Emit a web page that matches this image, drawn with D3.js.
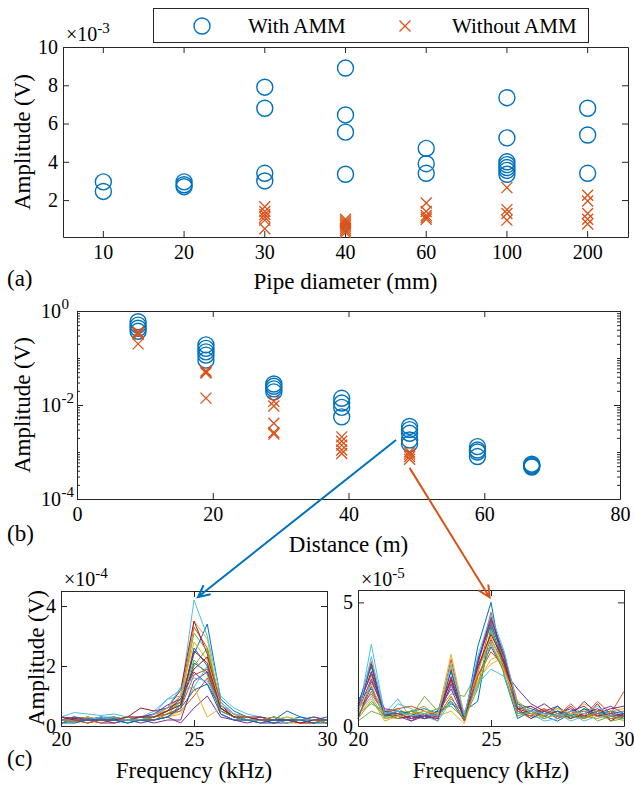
<!DOCTYPE html>
<html>
<head>
<meta charset="utf-8">
<script src="https://cdn.jsdelivr.net/npm/d3@7"></script>
<style>
  body { margin: 0; background: #fff; }
</style>
</head>
<body>
<div id="chart"></div>
<script>
// ---------- data ----------
// (a) amplitude vs pipe diameter, values in units of 1e-3 V
var pipeDiameters = ['10', '20', '30', '40', '60', '100', '200'];
var pipeWithAMM = [
  [2.95, 2.45],
  [2.95, 2.8, 2.7],
  [7.9, 6.8, 3.4, 3.0],
  [8.9, 6.45, 5.55, 3.35],
  [4.7, 3.9, 3.4],
  [7.35, 5.25, 4.0, 3.85, 3.7, 3.55, 3.35],
  [6.8, 5.4, 3.4]
];
var pipeWithoutAMM = [
  [],
  [],
  [1.65, 1.4, 1.25, 1.1, 0.95, 0.5],
  [1.0, 0.9, 0.8, 0.7, 0.6, 0.5, 0.4, 0.3],
  [1.85, 1.4, 1.2, 1.1, 1.0],
  [2.65, 1.5, 1.3, 0.95],
  [2.25, 1.95, 1.3, 1.0, 0.75]
];
var pipeYTicks = [2, 4, 6, 8, 10];

// (b) amplitude vs distance, values in V
var distances = [9, 19, 29, 39, 49, 59, 67];
var distWithAMM = [
  [0.59, 0.5, 0.43, 0.37],
  [0.19, 0.16, 0.135, 0.115, 0.09],
  [0.028, 0.025, 0.022, 0.019],
  [0.0139, 0.011, 0.0089, 0.0056],
  [0.0035, 0.003, 0.0025, 0.0018, 0.0015],
  [0.0013, 0.0011, 0.001, 0.0008],
  [0.00055, 0.00052, 0.0005, 0.00048]
];
var distWithoutAMM = [
  [0.36, 0.34, 0.32, 0.2],
  [0.053, 0.05, 0.048, 0.014],
  [0.012, 0.0095, 0.0041, 0.0026, 0.0024],
  [0.0021, 0.0017, 0.0014, 0.0011, 0.00093],
  [0.001, 0.0009, 0.0008, 0.0007],
  [],
  []
];
var distXTicks = [0, 20, 40, 60, 80];
var distYTicks = [1e-4, 1e-2, 1];
var distYLabels = ['-4', '-2', '0'];

// (c) spectra at 49 m, frequency in kHz
var freqs = [20, 20.5, 21, 21.5, 22, 22.5, 23, 23.5, 24, 24.5, 25, 25.5, 26, 26.5, 27, 27.5, 28, 28.5, 29, 29.5, 30];
// with AMM, units of 1e-4 V
var spectraWithAMM = [
  [0.3, 0.25, 0.2, 0.25, 0.3, 0.2, 0.3, 0.4, 0.6, 0.8, 2.4, 3.4, 0.9, 0.5, 0.3, 0.2, 0.3, 0.2, 0.3, 0.2, 0.2],
  [0.2, 0.15, 0.2, 0.2, 0.3, 0.2, 0.2, 0.4, 0.5, 1.0, 3.3, 2.6, 0.8, 0.4, 0.2, 0.2, 0.3, 0.2, 0.1, 0.2, 0.1],
  [0.1, 0.2, 0.1, 0.2, 0.2, 0.1, 0.2, 0.2, 0.3, 0.5, 3.5, 2.9, 0.6, 0.3, 0.2, 0.1, 0.2, 0.1, 0.1, 0.1, 0.2],
  [0.2, 0.2, 0.2, 0.1, 0.1, 0.2, 0.1, 0.2, 0.3, 0.1, 0.6, 1.0, 0.3, 0.2, 0.2, 0.1, 0.1, 0.2, 0.1, 0.1, 0.2],
  [0.2, 0.3, 0.2, 0.2, 0.2, 0.2, 0.3, 0.3, 0.5, 0.7, 2.0, 2.6, 0.7, 0.4, 0.3, 0.2, 0.2, 0.2, 0.2, 0.2, 0.1],
  [0.3, 0.45, 0.4, 0.35, 0.4, 0.3, 0.3, 0.5, 0.9, 1.0, 4.2, 3.0, 1.0, 0.6, 0.4, 0.3, 0.2, 0.3, 0.2, 0.3, 0.2],
  [0.3, 0.25, 0.2, 0.3, 0.2, 0.3, 0.6, 0.5, 0.6, 1.2, 3.5, 2.4, 0.7, 0.4, 0.3, 0.3, 0.2, 0.2, 0.2, 0.2, 0.1],
  [0.2, 0.3, 0.25, 0.2, 0.25, 0.2, 0.2, 0.3, 0.4, 0.6, 2.1, 1.8, 0.6, 0.3, 0.2, 0.2, 0.2, 0.5, 0.3, 0.2, 0.3],
  [0.1, 0.2, 0.2, 0.1, 0.2, 0.2, 0.2, 0.3, 0.4, 0.5, 1.0, 1.6, 0.5, 0.3, 0.2, 0.2, 0.1, 0.2, 0.2, 0.1, 0.2],
  [0.2, 0.1, 0.2, 0.2, 0.1, 0.2, 0.2, 0.2, 0.3, 0.4, 1.3, 0.3, 0.6, 0.3, 0.2, 0.2, 0.2, 0.1, 0.2, 0.2, 0.1],
  [0.1, 0.2, 0.1, 0.2, 0.1, 0.2, 0.2, 0.1, 0.2, 0.2, 1.5, 1.8, 0.4, 0.2, 0.1, 0.2, 0.1, 0.1, 0.2, 0.1, 0.2],
  [0.2, 0.2, 0.3, 0.2, 0.2, 0.3, 0.2, 0.3, 0.4, 0.8, 3.1, 2.5, 0.6, 0.3, 0.3, 0.2, 0.2, 0.2, 0.2, 0.2, 0.2],
  [0.2, 0.3, 0.2, 0.3, 0.3, 0.2, 0.3, 0.4, 0.9, 1.2, 1.3, 2.0, 0.8, 0.4, 0.3, 0.2, 0.2, 0.2, 0.2, 0.3, 0.2],
  [0.2, 0.2, 0.3, 0.2, 0.2, 0.2, 0.2, 0.3, 0.5, 0.9, 1.9, 2.3, 0.7, 0.3, 0.2, 0.2, 0.2, 0.2, 0.2, 0.1, 0.2],
  [0.1, 0.2, 0.2, 0.2, 0.2, 0.1, 0.2, 0.2, 0.3, 0.7, 2.6, 2.0, 0.5, 0.3, 0.2, 0.2, 0.1, 0.2, 0.2, 0.2, 0.1],
  [0.2, 0.2, 0.1, 0.2, 0.2, 0.2, 0.3, 0.2, 0.4, 0.6, 1.7, 1.9, 0.6, 0.3, 0.2, 0.2, 0.2, 0.2, 0.1, 0.2, 0.2],
  [0.3, 0.2, 0.3, 0.2, 0.2, 0.3, 0.2, 0.3, 0.6, 1.0, 2.8, 2.2, 0.7, 0.4, 0.3, 0.2, 0.2, 0.3, 0.2, 0.2, 0.1],
  [0.2, 0.3, 0.2, 0.3, 0.2, 0.2, 0.3, 0.4, 0.7, 0.9, 1.8, 1.4, 0.6, 0.3, 0.2, 0.3, 0.2, 0.2, 0.2, 0.3, 0.2],
  [0.1, 0.2, 0.2, 0.2, 0.3, 0.2, 0.2, 0.3, 0.5, 0.8, 2.2, 1.7, 0.5, 0.3, 0.2, 0.2, 0.3, 0.2, 0.2, 0.1, 0.2],
  [0.2, 0.2, 0.2, 0.3, 0.2, 0.2, 0.2, 0.4, 0.6, 1.3, 1.6, 1.5, 0.7, 0.4, 0.2, 0.2, 0.2, 0.1, 0.2, 0.2, 0.2],
  [0.3, 0.2, 0.2, 0.2, 0.2, 0.3, 0.3, 0.3, 0.5, 0.7, 2.5, 2.1, 0.6, 0.3, 0.3, 0.2, 0.2, 0.2, 0.1, 0.2, 0.2],
  [0.1, 0.1, 0.2, 0.2, 0.2, 0.1, 0.2, 0.2, 0.3, 0.6, 1.2, 1.4, 0.4, 0.2, 0.2, 0.1, 0.2, 0.2, 0.2, 0.1, 0.1]
];
// without AMM, units of 1e-5 V
var spectraWithoutAMM = [
  [0.3, 1.6, 0.3, 0.4, 0.6, 0.3, 0.5, 1.0, 0.2, 3.2, 5.0, 2.0, 0.3, 0.6, 0.4, 0.2, 0.5, 0.3, 0.6, 0.4, 0.3],
  [0.8, 2.6, 0.4, 0.6, 0.5, 0.4, 0.3, 2.7, 0.3, 2.5, 4.6, 2.4, 0.8, 0.5, 0.7, 0.4, 0.9, 0.4, 1.0, 0.5, 1.4],
  [1.0, 2.0, 0.6, 0.5, 0.4, 0.6, 0.5, 2.9, 0.4, 1.8, 2.7, 2.9, 0.9, 0.5, 0.6, 0.7, 0.5, 0.9, 0.6, 0.5, 0.4],
  [0.6, 1.9, 0.5, 0.4, 0.2, 0.5, 0.4, 2.0, 0.3, 2.0, 3.2, 2.2, 1.5, 0.9, 0.6, 0.8, 0.4, 1.0, 0.5, 0.7, 0.8],
  [0.5, 0.9, 0.6, 0.7, 0.4, 1.2, 0.6, 1.3, 1.2, 2.2, 3.8, 2.6, 0.9, 0.5, 0.4, 0.6, 0.5, 0.4, 0.3, 0.5, 0.3],
  [0.4, 3.3, 0.5, 1.1, 0.3, 0.4, 0.6, 1.6, 0.5, 2.4, 3.3, 2.3, 0.6, 0.4, 0.3, 0.5, 0.2, 0.4, 0.6, 0.3, 0.3],
  [0.6, 2.5, 0.4, 0.5, 0.3, 0.5, 0.2, 2.3, 0.3, 2.6, 4.4, 2.7, 0.7, 0.8, 0.5, 0.4, 0.8, 0.3, 0.9, 0.2, 0.5],
  [1.1, 1.5, 0.6, 0.4, 0.6, 0.7, 0.5, 0.9, 0.6, 1.0, 4.0, 2.5, 0.5, 0.6, 0.4, 0.8, 0.3, 0.7, 0.4, 0.6, 0.3],
  [0.7, 1.3, 0.5, 0.5, 0.6, 0.4, 0.6, 1.8, 0.4, 2.1, 4.2, 2.6, 0.6, 0.4, 0.6, 0.3, 0.5, 0.6, 0.4, 0.5, 0.6],
  [0.4, 1.1, 0.2, 0.4, 0.5, 0.3, 0.4, 0.6, 0.1, 1.9, 2.5, 2.8, 1.0, 0.6, 0.3, 0.5, 0.4, 0.3, 0.5, 0.4, 0.2],
  [0.3, 1.8, 0.7, 0.6, 0.2, 0.4, 0.6, 1.5, 0.3, 2.3, 3.5, 2.5, 0.8, 0.6, 0.9, 0.5, 0.7, 0.4, 0.6, 0.8, 0.5],
  [0.2, 0.6, 0.4, 0.5, 0.6, 0.8, 0.3, 1.1, 0.5, 1.6, 3.9, 2.3, 0.6, 0.3, 0.5, 0.4, 0.3, 0.7, 0.2, 0.4, 0.3],
  [0.5, 1.2, 0.3, 0.9, 0.7, 0.4, 0.2, 1.0, 0.4, 1.7, 2.3, 2.0, 0.5, 0.5, 0.2, 0.3, 0.5, 0.2, 0.4, 0.3, 0.4],
  [0.7, 2.2, 0.5, 0.3, 0.4, 0.3, 0.4, 1.9, 0.2, 2.4, 3.7, 2.6, 0.7, 0.5, 0.4, 0.6, 0.3, 0.5, 0.7, 0.4, 0.5],
  [0.9, 2.4, 0.4, 0.6, 0.5, 0.3, 0.6, 2.2, 0.3, 2.7, 4.1, 2.8, 0.9, 0.7, 0.5, 0.6, 0.4, 0.7, 0.5, 0.6, 0.5],
  [0.4, 1.4, 0.5, 0.7, 0.8, 0.6, 0.4, 1.2, 0.2, 2.0, 3.0, 2.4, 0.6, 0.4, 0.7, 0.3, 0.6, 0.3, 0.5, 0.3, 0.4],
  [0.6, 1.7, 0.3, 0.4, 0.5, 0.6, 0.5, 2.4, 0.5, 2.2, 3.6, 2.2, 1.0, 0.5, 0.4, 0.7, 0.5, 0.5, 0.3, 0.6, 0.7],
  [0.8, 2.1, 0.6, 0.5, 0.3, 0.4, 0.3, 1.7, 0.4, 2.5, 4.3, 2.9, 0.7, 0.3, 0.6, 0.4, 0.6, 0.8, 0.4, 0.5, 0.4],
  [0.3, 1.0, 0.4, 0.3, 0.6, 0.5, 0.7, 0.8, 0.3, 1.5, 3.4, 2.1, 0.4, 0.6, 0.3, 0.5, 0.4, 0.3, 0.6, 0.2, 0.3],
  [0.5, 2.8, 0.5, 0.6, 0.4, 0.5, 0.4, 2.5, 0.4, 2.8, 4.5, 3.0, 0.8, 0.6, 0.5, 0.4, 0.6, 0.5, 0.8, 0.4, 0.6]
];
var freqTicks = [20, 25, 30];
var specWithYTicks = [0, 2, 4];
var specWithoutYTicks = [0, 5];
var lineColors = ['#0072BD', '#D95319', '#EDB120', '#7E2F8E', '#77AC30', '#4DBEEE', '#A2142F'];

// arrows from (b) to the spectra in (c): [distance, amplitude] -> [frequency, amplitude]
var arrowWith = { from: [47, 0.0018], to: [25.15, 4.3] };
var arrowWithout = { from: [49, 0.00046], to: [24.95, 5.2] };

var blue = '#0072BD', orange = '#D95319', axisColor = '#262626';
var fontFamily = 'Liberation Serif';

var svg = d3.select('#chart').append('svg')
            .attr('width', 634)
            .attr('height', 787);

// box with inner ticks on all four sides, labels on bottom and left
function addFrame(x, y, xTicks, yTicks, xFormat, yFormat, xPad) {
  var xr = x.range(), yr = y.range();
  var parts = [
    { axis: d3.axisBottom(x).tickFormat(xFormat).tickPadding(xPad), t: 'translate(0,' + yr[0] + ')', ticks: xTicks },
    { axis: d3.axisTop(x).tickFormat(''), t: 'translate(0,' + yr[1] + ')', ticks: xTicks },
    { axis: d3.axisLeft(y).tickFormat(yFormat).tickPadding(5), t: 'translate(' + xr[0] + ',0)', ticks: yTicks },
    { axis: d3.axisRight(y).tickFormat(''), t: 'translate(' + xr[1] + ',0)', ticks: yTicks }
  ];
  parts.forEach(function(p) {
    if (p.ticks) p.axis.tickValues(p.ticks);
    var g = svg.append('g')
               .attr('transform', p.t)
               .call(p.axis.tickSizeInner(-6).tickSizeOuter(0));
    g.attr('font-size', 20).attr('font-family', null);
    g.select('.domain').attr('stroke', axisColor).attr('stroke-width', 1);
    g.selectAll('.tick line').attr('stroke', axisColor);
    g.selectAll('.tick text').attr('fill', '#000');
  });
}

function addText(x, y, str, size, anchor, rotate) {
  var t = svg.append('text')
             .attr('font-size', size)
             .attr('text-anchor', anchor || 'start')
             .text(str);
  if (rotate) t.attr('transform', 'translate(' + x + ',' + y + ') rotate(-90)');
  else t.attr('x', x).attr('y', y);
  return t;
}

// "x10^n" exponent label
function addExponent(x, y, exp) {
  var t = svg.append('text').attr('x', x).attr('y', y).attr('font-size', 20);
  t.append('tspan').text('\u00d710');
  t.append('tspan').attr('dy', -8).attr('font-size', 15).text(exp);
}

function crossPath(s) {
  return 'M' + (-s) + ',' + (-s) + 'L' + s + ',' + s + 'M' + (-s) + ',' + s + 'L' + s + ',' + (-s);
}

function drawMarkers(groups, xOf, y, shape) {
  var pts = [];
  groups.forEach(function(vals, i) {
    vals.forEach(function(v) { pts.push({ x: xOf(i), y: y(v) }); });
  });
  if (shape === 'o') {
    svg.append('g').selectAll('circle').data(pts).enter().append('circle')
       .attr('cx', function(d) { return d.x; })
       .attr('cy', function(d) { return d.y; })
       .attr('r', 8)
       .attr('fill', 'none')
       .attr('stroke', blue)
       .attr('stroke-width', 1.4);
  } else {
    svg.append('g').selectAll('path').data(pts).enter().append('path')
       .attr('d', crossPath(5.5))
       .attr('transform', function(d) { return 'translate(' + d.x + ',' + d.y + ')'; })
       .attr('fill', 'none')
       .attr('stroke', orange)
       .attr('stroke-width', 1.3);
  }
}

// ---------- (a) ----------
var xa = d3.scaleBand().domain(pipeDiameters).range([63, 628]);
var ya = d3.scaleLinear().domain([0.07, 10]).range([237, 47]);

addFrame(xa, ya, null, pipeYTicks, null, d3.format('d'), 8);
drawMarkers(pipeWithAMM, function(i) { return xa(pipeDiameters[i]) + xa.bandwidth() / 2; }, ya, 'o');
drawMarkers(pipeWithoutAMM, function(i) { return xa(pipeDiameters[i]) + xa.bandwidth() / 2; }, ya, 'x');
addExponent(66, 41, '-3');
addText(30, 142, 'Amplitude (V)', 23, 'middle', true);
addText(345.5, 289, 'Pipe diameter (mm)', 23, 'middle');
addText(7, 286, '(a)', 23);

// legend
svg.append('rect')
   .attr('x', 153.5).attr('y', 8.5)
   .attr('width', 435).attr('height', 34)
   .attr('fill', '#fff')
   .attr('stroke', axisColor);
svg.append('circle')
   .attr('cx', 202).attr('cy', 26).attr('r', 8)
   .attr('fill', 'none').attr('stroke', blue).attr('stroke-width', 1.4);
addText(248, 33, 'With AMM', 21);
svg.append('path')
   .attr('d', crossPath(5.5))
   .attr('transform', 'translate(405,26)')
   .attr('stroke', orange).attr('stroke-width', 1.3);
addText(452, 33, 'Without AMM', 21);

// ---------- (b) ----------
var xb = d3.scaleLinear().domain([0, 80]).range([77, 620]);
var yb = d3.scaleLog().domain([1e-4, 1]).range([499, 311]);

addFrame(xb, yb, distXTicks, distYTicks, d3.format('d'), function() { return ''; }, 8);

// minor log ticks
var minorTicks = [];
[-4, -3, -2, -1].forEach(function(e) {
  for (var k = 2; k <= 10; k++) minorTicks.push(k * Math.pow(10, e));
});
[[d3.axisLeft(yb), 77], [d3.axisRight(yb), 620]].forEach(function(a) {
  var g = svg.append('g')
             .attr('transform', 'translate(' + a[1] + ',0)')
             .call(a[0].tickValues(minorTicks).tickFormat('').tickSizeInner(-3).tickSizeOuter(0));
  g.select('.domain').remove();
  g.selectAll('.tick line').attr('stroke', axisColor);
});

// 10^n tick labels
distYTicks.forEach(function(v, i) {
  svg.append('text')
     .attr('x', 61)
     .attr('y', yb(v) + 7)
     .attr('font-size', 20)
     .attr('text-anchor', 'end')
     .text('10');
  svg.append('text')
     .attr('x', 61.5)
     .attr('y', yb(v) - 2)
     .attr('font-size', 15)
     .text(distYLabels[i]);
});

drawMarkers(distWithAMM, function(i) { return xb(distances[i]); }, yb, 'o');
drawMarkers(distWithoutAMM, function(i) { return xb(distances[i]); }, yb, 'x');
addText(30, 405, 'Amplitude (V)', 23, 'middle', true);
addText(348.5, 552, 'Distance (m)', 23, 'middle');
addText(7, 541, '(b)', 23);

// ---------- (c) ----------
var xc1 = d3.scaleLinear().domain([20, 30]).range([61, 327]);
var yc1 = d3.scaleLinear().domain([0, 4.5]).range([726, 591]);
var xc2 = d3.scaleLinear().domain([20, 30]).range([358, 624]);
var yc2 = d3.scaleLinear().domain([0, 5.5]).range([726, 590]);

function drawSpectra(spectra, x, y) {
  var line = d3.line()
               .x(function(d, i) { return x(freqs[i]); })
               .y(function(d) { return y(d); });
  svg.append('g').selectAll('path').data(spectra).enter().append('path')
     .attr('d', function(d) { return line(d); })
     .attr('fill', 'none')
     .attr('stroke', function(d, i) { return lineColors[i % lineColors.length]; })
     .attr('stroke-width', 1)
     .attr('stroke-linejoin', 'round');
}

drawSpectra(spectraWithAMM, xc1, yc1);
drawSpectra(spectraWithoutAMM, xc2, yc2);
addFrame(xc1, yc1, freqTicks, specWithYTicks, d3.format('d'), d3.format('d'), 6);
addFrame(xc2, yc2, freqTicks, specWithoutYTicks, d3.format('d'), d3.format('d'), 6);
addExponent(64, 586, '-4');
addExponent(361, 586, '-5');
addText(44, 658, 'Amplitude (V)', 23, 'middle', true);
addText(194, 778, 'Frequency (kHz)', 23, 'middle');
addText(491, 778, 'Frequency (kHz)', 23, 'middle');
addText(7, 766, '(c)', 23);

// ---------- arrows ----------
function drawArrow(p0, p1, color) {
  var ang = Math.atan2(p1[1] - p0[1], p1[0] - p0[0]);
  var len = 13, spread = 0.45;
  var h1 = [p1[0] - len * Math.cos(ang - spread), p1[1] - len * Math.sin(ang - spread)];
  var h2 = [p1[0] - len * Math.cos(ang + spread), p1[1] - len * Math.sin(ang + spread)];
  svg.append('path')
     .attr('d', 'M' + p0 + 'L' + p1 + 'M' + h1 + 'L' + p1 + 'L' + h2)
     .attr('fill', 'none')
     .attr('stroke', color)
     .attr('stroke-width', 2);
}

drawArrow([xb(arrowWith.from[0]), yb(arrowWith.from[1])],
          [xc1(arrowWith.to[0]), yc1(arrowWith.to[1])], blue);
drawArrow([xb(arrowWithout.from[0]), yb(arrowWithout.from[1])],
          [xc2(arrowWithout.to[0]), yc2(arrowWithout.to[1])], orange);

// serif font on every text, set inline so it beats the axis defaults
svg.selectAll('text').style('font-family', fontFamily).style('fill', '#000');
</script>
</body>
</html>
